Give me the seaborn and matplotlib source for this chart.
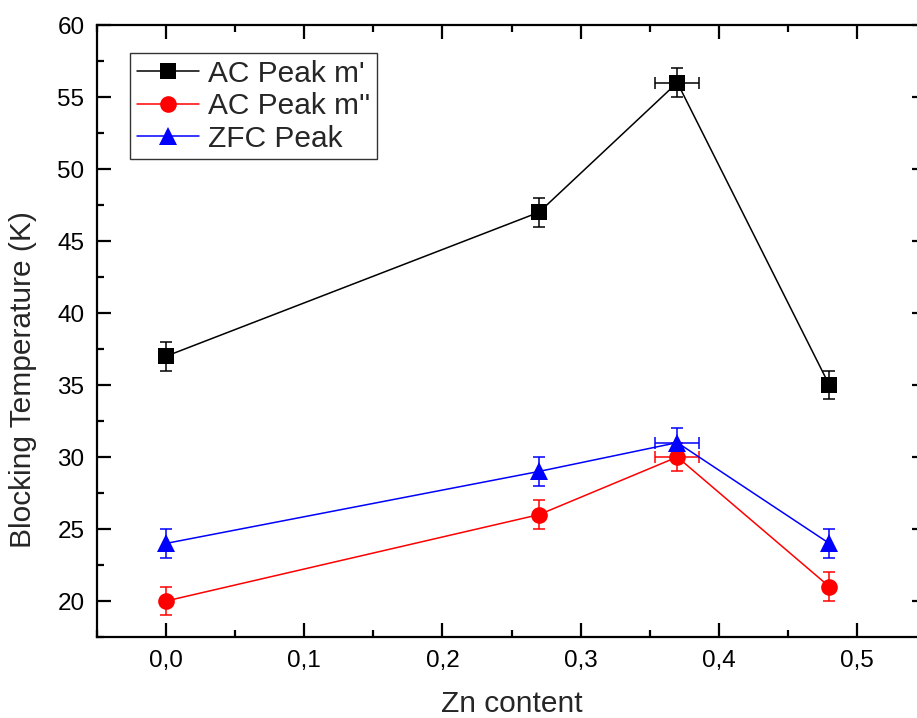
import matplotlib
matplotlib.use("Agg")
import matplotlib.pyplot as plt
import seaborn as sns
import pandas as pd
import numpy as np
from matplotlib.ticker import MultipleLocator, FixedLocator, FixedFormatter

# Data
zn = [0.0, 0.27, 0.37, 0.48]
ac_m1 = [37, 47, 56, 35]
ac_m2 = [20, 26, 30, 21]
zfc = [24, 29, 31, 24]
yerr = [1, 1, 1, 1]
xerr = [0, 0, 0.016, 0]
series_names = ["AC Peak m'", "AC Peak m''", "ZFC Peak"]
x_ticks = [0.0, 0.1, 0.2, 0.3, 0.4, 0.5]
x_tick_labels = ["0,0", "0,1", "0,2", "0,3", "0,4", "0,5"]
y_ticks = [20, 25, 30, 35, 40, 45, 50, 55, 60]

sns.set_theme(style="white")
plt.rcParams['font.family'] = ['Liberation Sans', 'DejaVu Sans']

df = pd.DataFrame({
    "zn": zn * 3,
    "T": ac_m1 + ac_m2 + zfc,
    "series": [series_names[0]] * 4 + [series_names[1]] * 4 + [series_names[2]] * 4,
})

colors = ["#000000", "#ff0000", "#0000ff"]
markers = ["s", "o", "^"]
msizes = [11, 12, 13]

fig = plt.figure(figsize=(9.17, 7.18), dpi=100)
ax = fig.add_axes([97/917, 81/718, 829/917, 612/718])

for name, c, m, ms in zip(series_names, colors, markers, msizes):
    sub = df[df["series"] == name]
    ax.errorbar(sub["zn"], sub["T"], yerr=yerr, xerr=xerr, fmt="none",
                ecolor=c, elinewidth=1.1, capsize=4.5, capthick=1.1, zorder=2)
    sns.lineplot(data=sub, x="zn", y="T", ax=ax, color=c, marker=m,
                 markersize=ms, markeredgewidth=0, linewidth=1.1,
                 label=name, zorder=3, estimator=None, sort=False)

ax.set_xlim(-0.05, 0.55)
ax.set_ylim(17.5, 60)
ax.xaxis.set_major_locator(FixedLocator(x_ticks))
ax.xaxis.set_major_formatter(FixedFormatter(x_tick_labels))
ax.xaxis.set_minor_locator(MultipleLocator(0.05))
ax.yaxis.set_major_locator(FixedLocator(y_ticks))
ax.yaxis.set_minor_locator(MultipleLocator(2.5))

ax.tick_params(which="both", direction="in", top=True, right=True,
               bottom=True, left=True, colors="black", width=1.6)
ax.tick_params(which="major", length=10, labelsize=17.5, pad=9)
ax.tick_params(which="minor", length=5)
for sp in ax.spines.values():
    sp.set_color("black")
    sp.set_linewidth(1.6)

ax.set_xlabel("Zn content", fontsize=21.5, labelpad=13)
ax.set_ylabel("Blocking Temperature (K)", fontsize=21.5)
ax.yaxis.set_label_coords(-0.072, 0.42)

leg = ax.legend(loc="upper left", bbox_to_anchor=(0.04, 0.954), borderaxespad=0,
                fontsize=21.5, frameon=True, fancybox=False, handlelength=2.1,
                handletextpad=0.3, borderpad=0.22, labelspacing=0.15,
                markerscale=1.0)
leg.get_frame().set_edgecolor("black")
leg.get_frame().set_linewidth(1.0)

fig.savefig("out.png", dpi=100)
